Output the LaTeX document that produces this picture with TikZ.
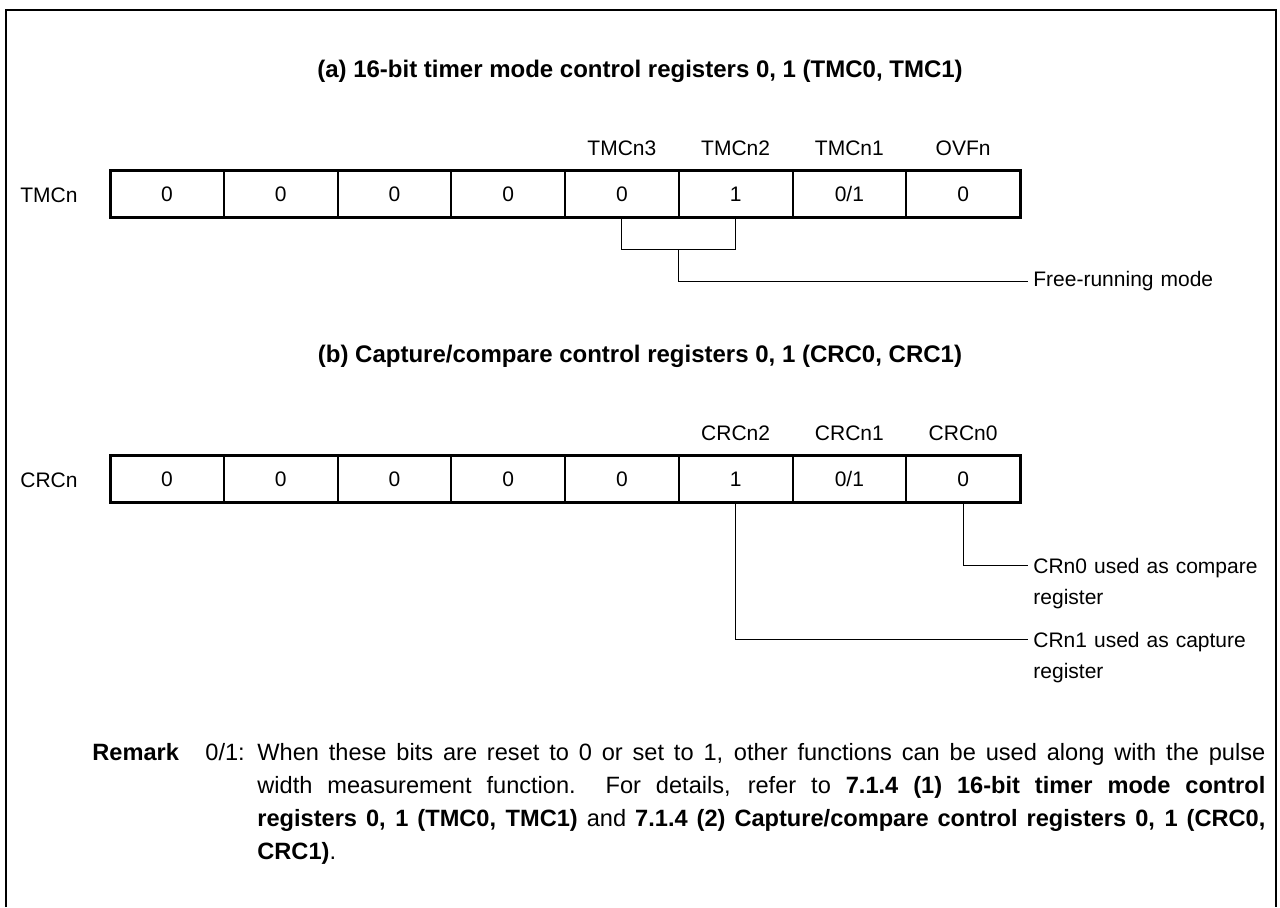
\documentclass[tikz,border=0pt]{standalone}
\usepackage{fontspec}
\setmainfont{Liberation Sans}
\usetikzlibrary{positioning,calc}

\tikzset{
  bitcell/.style={draw, line width=1pt, minimum width=56.875pt, minimum height=23.5pt,
    inner sep=0pt, outer sep=0pt, text height=7.5pt, text depth=0pt,
    font=\fontsize{10.5}{12}\selectfont},
  bitname/.style={inner sep=0pt, font=\fontsize{10.5}{12}\selectfont},
  regname/.style={inner sep=0pt, anchor=west, font=\fontsize{10.5}{12}\selectfont},
  figtitle/.style={font=\fontsize{12}{14}\selectfont\bfseries},
  note/.style={anchor=base west, inner sep=2.5pt, align=left, text width=125pt,
    font=\fontsize{10.5}{15.5}\selectfont},
  leader/.style={line width=0.5pt},
  remtext/.style={inner sep=0pt, anchor=base west, font=\fontsize{11.8}{16.5}\selectfont},
}

\begin{document}
\begin{tikzpicture}[x=0.5pt, y=-0.5pt]
    \useasboundingbox (0,0) rectangle (1280,907);
    % Frame
    \draw[line width=1pt] (6,907) -- (6,10) -- (1276,10) -- (1276,907);

    % (a) TMCn register
    \node[figtitle] (ta) at (640,71) {(a) 16-bit timer mode control registers 0, 1 (TMC0, TMC1)};
    \node[regname] (tmc) at (20,195) {TMCn};
    \foreach \v [count=\i] in {0,0,0,0,0,1,{0/1},0} {
        \node[bitcell] (a\i) at ({110+113.75*(\i-0.5)},193.5) {\v};
    }
    \draw[line width=1.5pt] (a1.north west) rectangle (a8.south east);
    \foreach \i/\t in {5/TMCn3,6/TMCn2,7/TMCn1,8/OVFn}
        \node[bitname] (na\i) at ([yshift=11pt]a\i.north) {\t};
    % Bracket to mode
    \coordinate (brk) at ($(a5.south)!0.5!(a6.south)+(0,32)$);
    \draw[leader] (a5.south) |- (brk) -| (a6.south);
    \node[note, anchor=west] (free) at (1028,281) {Free-running mode};
    \draw[leader] (brk) |- (free.west);

    % (b) CRCn register
    \node[figtitle] (tb) at (640,356) {(b) Capture/compare control registers 0, 1 (CRC0, CRC1)};
    \node[regname] (crc) at (20,480) {CRCn};
    \foreach \v [count=\i] in {0,0,0,0,0,1,{0/1},0} {
        \node[bitcell] (b\i) at ({110+113.75*(\i-0.5)},478.5) {\v};
    }
    \draw[line width=1.5pt] (b1.north west) rectangle (b8.south east);
    \foreach \i/\t in {6/CRCn2,7/CRCn1,8/CRCn0}
        \node[bitname] (nb\i) at ([yshift=11pt]b\i.north) {\t};
    \node[note] (cmp) at (1028,573) {CRn0 used as compare\\register};
    \node[note] (cap) at (1028,647) {CRn1 used as capture\\register};
    \draw[leader] (b8.south) |- ([yshift=3.7pt]cmp.base west);
    \draw[leader] (b6.south) |- ([yshift=3.7pt]cap.base west);

    % Remark
    \node[remtext] (rmk) at (92,760) {\textbf{Remark}};
    \node[remtext] (key) at (205,760) {0/1:};
    \node[remtext, text width=504pt, align=justify] (body) at (257,760) {When these bits are reset to 0 or set to 1, other functions can be used along with the pulse\linebreak
        width measurement function.\ \ For details, refer to \textbf{7.1.4 (1) 16-bit timer mode control}\linebreak
        \textbf{registers 0, 1 (TMC0, TMC1)} and \textbf{7.1.4 (2) Capture/compare control registers 0, 1 (CRC0,}\linebreak
        \textbf{CRC1)}.};
\end{tikzpicture}
\end{document}
